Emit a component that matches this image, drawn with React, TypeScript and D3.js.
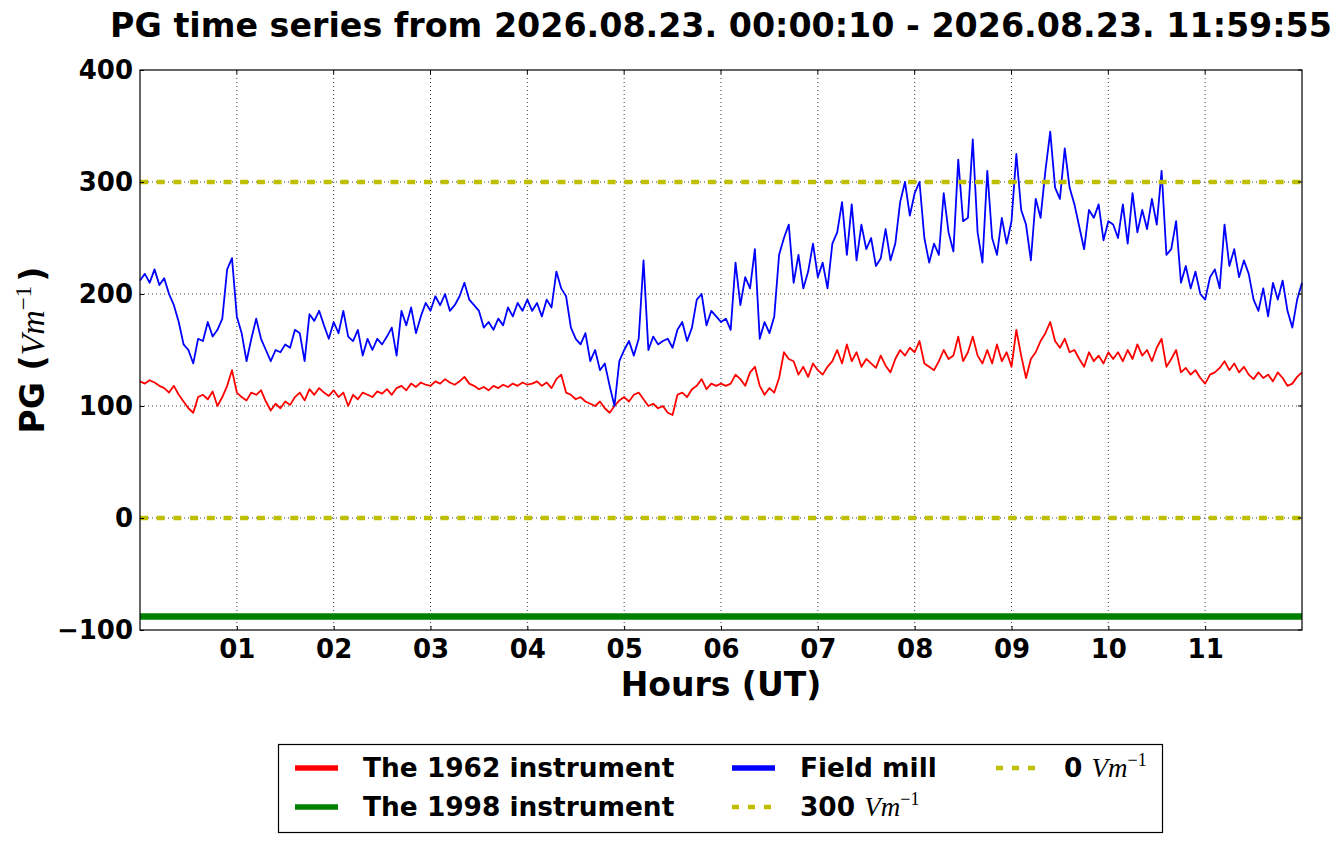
import { useEffect, useRef } from "react";
import * as d3 from "d3";

const WIDTH = 1341;
const HEIGHT = 844;
const PLOT = { left: 140, right: 1302, top: 70, bottom: 630 };

// one sample every 3 minutes, 00:00 .. 12:00
const STEP_HOURS = 0.05;

// Field mill (V/m)
const FIELD_MILL = [
  212, 218, 210, 222, 208, 214, 200, 190, 175, 155,
  150, 138, 160, 158, 175, 162, 168, 178, 222, 232,
  180, 165, 140, 160, 178, 160, 150, 140, 150, 148,
  155, 152, 168, 165, 140, 182, 176, 185, 172, 160,
  175,
  165, 185, 162, 158, 168, 145, 160, 150, 160, 155,
  162, 170, 145, 185, 172, 188, 165, 180, 192, 185,
  198, 190, 200, 185, 190, 198, 210, 195, 190, 185,
  170, 175, 168, 178, 172, 188, 180, 192, 185, 195,
  185, 192, 180, 195, 188, 220, 205, 198, 170, 160,
  155, 165, 140, 150, 132, 138, 118, 100, 140, 150,
  158, 145, 160, 230, 150, 162, 155, 158, 160, 152,
  168, 175, 158, 170, 195, 200, 172, 185, 180, 175,
  178, 168, 228, 190, 215, 205, 240, 160, 175, 165,
  180, 235, 250, 262, 210, 235, 205, 220, 245, 215,
  228, 205, 245, 255, 282, 235, 280, 230, 262, 240,
  250, 225, 232, 258, 230, 245, 282, 300, 270, 290,
  300, 250, 228, 245, 235, 290, 255, 238, 320, 265,
  268, 338, 255, 228, 310, 250, 235, 268, 245, 265,
  325, 275, 262, 230, 285, 268, 310, 345, 295, 285,
  330, 295, 280, 260, 240, 275, 268, 280, 248, 265,
  262, 250, 280, 245, 290, 255, 275, 258, 285, 262,
  310, 235, 240, 265, 210, 225, 205, 220, 200, 195,
  215, 222, 205, 262, 225, 240, 215, 230, 218, 195,
  185, 205, 180, 210, 195, 212, 185, 170, 195, 210,
];

// The 1962 instrument (V/m)
const INSTR_1962 = [
  122, 120, 123, 121, 118, 116, 112, 118, 110, 104,
  98, 94, 108, 110, 106, 113, 100, 108, 118, 132,
  112, 108, 105, 112, 110, 114, 104, 96, 102, 98,
  104, 101, 108, 112, 105, 115, 110, 116, 112, 109,
  114,
  108, 112, 100, 110, 106, 112, 110, 108, 113, 111,
  115, 110, 116, 118, 114, 120, 117, 121, 119, 118,
  122, 120, 124, 121, 119, 122, 126, 120, 118, 115,
  117, 114, 118, 116, 119, 117, 120, 118, 121, 119,
  120, 122, 118, 121, 116, 124, 128, 112, 110, 106,
  108, 104, 102, 100, 104, 98, 94, 100, 105, 108,
  104, 110, 112, 106, 100, 102, 98, 100, 94, 92,
  110, 112, 108, 115, 118, 124, 115, 120, 118, 120,
  118, 120, 128, 124, 118, 130, 135, 118, 110, 116,
  112, 125, 148, 142, 140, 128, 135, 126, 138, 132,
  128, 135, 140, 150, 138, 155, 140, 148, 135, 142,
  138, 134, 145, 136, 130, 142, 150, 145, 152, 148,
  158, 138, 135, 132, 140, 150, 142, 145, 162, 140,
  148, 162, 145, 138, 150, 138, 155, 140, 148, 135,
  168, 145, 125, 142, 148, 158, 165, 175, 158, 152,
  160, 148, 150, 142, 135, 148, 140, 145, 138, 148,
  142, 148, 140, 150, 142, 155, 145, 150, 140, 152,
  160, 135, 142, 150, 130, 134, 128, 132, 125, 120,
  128, 130, 134, 140, 132, 138, 130, 135, 128, 124,
  130, 125, 128, 122, 130, 125, 118, 120, 126, 130,
];

// The 1998 instrument sits flat for the whole window
const INSTR_1998_LEVEL = -88;
const REF_LEVELS = [300, 0];

const Y_TICKS = [-100, 0, 100, 200, 300, 400];
const X_TICKS = [1, 2, 3, 4, 5, 6, 7, 8, 9, 10, 11];
const X_TICK_LABELS = ["01", "02", "03", "04", "05", "06", "07", "08", "09", "10", "11"];

const COLOR_1962 = "#ff0000";
const COLOR_1998 = "#008000";
const COLOR_MILL = "#0000ff";
const COLOR_REF = "#bfbf00";

const SANS = "'DejaVu Sans', sans-serif";
const MATH = "'Liberation Serif', 'DejaVu Serif', serif";

export default function App() {
  const svgRef = useRef<SVGSVGElement>(null);

  useEffect(() => {
    const svg = d3.select(svgRef.current);
    svg.selectAll("*").remove();

    const x = d3.scaleLinear().domain([0, 12]).range([PLOT.left, PLOT.right]);
    const y = d3.scaleLinear().domain([-100, 400]).range([PLOT.bottom, PLOT.top]);

    svg.append("rect").attr("width", WIDTH).attr("height", HEIGHT).attr("fill", "#fff");

    // grid
    const grid = svg.append("g").attr("stroke", "#000").attr("stroke-width", 1)
      .attr("stroke-dasharray", "1,3").attr("opacity", 0.75);
    X_TICKS.forEach((t) => {
      grid.append("line").attr("x1", x(t)).attr("x2", x(t))
        .attr("y1", PLOT.top).attr("y2", PLOT.bottom);
    });
    Y_TICKS.filter((t) => t > -100 && t < 400).forEach((t) => {
      grid.append("line").attr("x1", PLOT.left).attr("x2", PLOT.right)
        .attr("y1", y(t)).attr("y2", y(t));
    });

    const line = d3.line<number>()
      .x((_, i) => x(i * STEP_HOURS))
      .y((d) => y(d));

    svg.append("path").datum(INSTR_1962).attr("d", line).attr("fill", "none")
      .attr("stroke", COLOR_1962).attr("stroke-width", 1.8).attr("stroke-linejoin", "round");

    svg.append("line").attr("x1", x(0)).attr("x2", x(12))
      .attr("y1", y(INSTR_1998_LEVEL)).attr("y2", y(INSTR_1998_LEVEL))
      .attr("stroke", COLOR_1998).attr("stroke-width", 6.5);

    svg.append("path").datum(FIELD_MILL).attr("d", line).attr("fill", "none")
      .attr("stroke", COLOR_MILL).attr("stroke-width", 1.8).attr("stroke-linejoin", "round");

    REF_LEVELS.forEach((lvl) => {
      svg.append("line").attr("x1", x(0)).attr("x2", x(12))
        .attr("y1", y(lvl)).attr("y2", y(lvl))
        .attr("stroke", COLOR_REF).attr("stroke-width", 4.5)
        .attr("stroke-dasharray", "8,8.7");
    });

    // frame
    svg.append("rect").attr("x", PLOT.left).attr("y", PLOT.top)
      .attr("width", PLOT.right - PLOT.left).attr("height", PLOT.bottom - PLOT.top)
      .attr("fill", "none").attr("stroke", "#000").attr("stroke-width", 1.2);

    // axes
    const yAxis = svg.append("g").attr("transform", `translate(${PLOT.left},0)`)
      .call(d3.axisLeft(y).tickValues(Y_TICKS).tickSize(-4).tickPadding(7));
    const xAxis = svg.append("g").attr("transform", `translate(0,${PLOT.bottom})`)
      .call(d3.axisBottom(x).tickValues(X_TICKS).tickSize(-4).tickPadding(10)
        .tickFormat((_, i) => X_TICK_LABELS[i]));
    [yAxis, xAxis].forEach((a) => {
      a.select(".domain").remove();
      a.selectAll(".tick line").attr("stroke", "#000");
      a.selectAll(".tick text").attr("font-family", SANS).attr("font-weight", "bold")
        .attr("font-size", 26).attr("fill", "#000");
    });
    // mirrored ticks on top / right
    Y_TICKS.forEach((t) => {
      svg.append("line").attr("x1", PLOT.right - 4).attr("x2", PLOT.right)
        .attr("y1", y(t)).attr("y2", y(t)).attr("stroke", "#000");
    });
    X_TICKS.forEach((t) => {
      svg.append("line").attr("x1", x(t)).attr("x2", x(t))
        .attr("y1", PLOT.top).attr("y2", PLOT.top + 4).attr("stroke", "#000");
    });

    // title
    svg.append("text").attr("x", (PLOT.left + PLOT.right) / 2).attr("y", 37)
      .attr("text-anchor", "middle").attr("font-family", SANS).attr("font-weight", "bold")
      .attr("font-size", 33.3)
      .text("PG time series from 2026.08.23. 00:00:10 - 2026.08.23. 11:59:55");

    // x label
    svg.append("text").attr("x", (PLOT.left + PLOT.right) / 2).attr("y", 696)
      .attr("text-anchor", "middle").attr("font-family", SANS).attr("font-weight", "bold")
      .attr("font-size", 33).text("Hours (UT)");

    // y label
    const yl = svg.append("text")
      .attr("transform", `translate(44,${(PLOT.top + PLOT.bottom) / 2}) rotate(-90)`)
      .attr("text-anchor", "middle").attr("font-family", SANS).attr("font-weight", "bold")
      .attr("font-size", 33);
    yl.append("tspan").text("PG (");
    yl.append("tspan").attr("font-family", MATH).attr("font-style", "italic")
      .attr("font-weight", "normal").attr("font-size", 34).text("Vm");
    yl.append("tspan").attr("font-family", MATH).attr("font-weight", "normal")
      .attr("font-size", 23).attr("dy", -13).text("\u22121");
    yl.append("tspan").attr("dy", 13).attr("dx", 4).text(")");

    // legend
    const lg = svg.append("g");
    lg.append("rect").attr("x", 278.5).attr("y", 744.5).attr("width", 884).attr("height", 88)
      .attr("fill", "#fff").attr("stroke", "#000").attr("stroke-width", 1.2);

    const entries = [
      { x: 295, y: 768, color: COLOR_1962, dotted: false, label: "The 1962 instrument", math: false },
      { x: 295, y: 807, color: COLOR_1998, dotted: false, label: "The 1998 instrument", math: false },
      { x: 732, y: 768, color: COLOR_MILL, dotted: false, label: "Field mill", math: false },
      { x: 732, y: 807, color: COLOR_REF, dotted: true, label: "300 ", math: true },
      { x: 996, y: 768, color: COLOR_REF, dotted: true, label: "0 ", math: true },
    ];
    entries.forEach((e) => {
      lg.append("line").attr("x1", e.x).attr("x2", e.x + 43)
        .attr("y1", e.y).attr("y2", e.y).attr("stroke", e.color)
        .attr("stroke-width", e.dotted ? 4.5 : 5.5)
        .attr("stroke-dasharray", e.dotted ? "7,9" : null);
      const t = lg.append("text").attr("x", e.x + 68).attr("y", e.y + 9)
        .attr("font-family", SANS).attr("font-weight", "bold").attr("font-size", 26.4)
        .attr("fill", "#000");
      t.append("tspan").text(e.label);
      if (e.math) {
        t.append("tspan").attr("font-family", MATH).attr("font-style", "italic")
          .attr("font-weight", "normal").attr("font-size", 27).text("Vm");
        t.append("tspan").attr("font-family", MATH).attr("font-weight", "normal")
          .attr("font-size", 18).attr("dy", -11).text("\u22121");
      }
    });
  }, []);

  return (
    <svg
      ref={svgRef}
      width={WIDTH}
      height={HEIGHT}
      style={{ position: "absolute", left: 0, top: 0 }}
    />
  );
}
